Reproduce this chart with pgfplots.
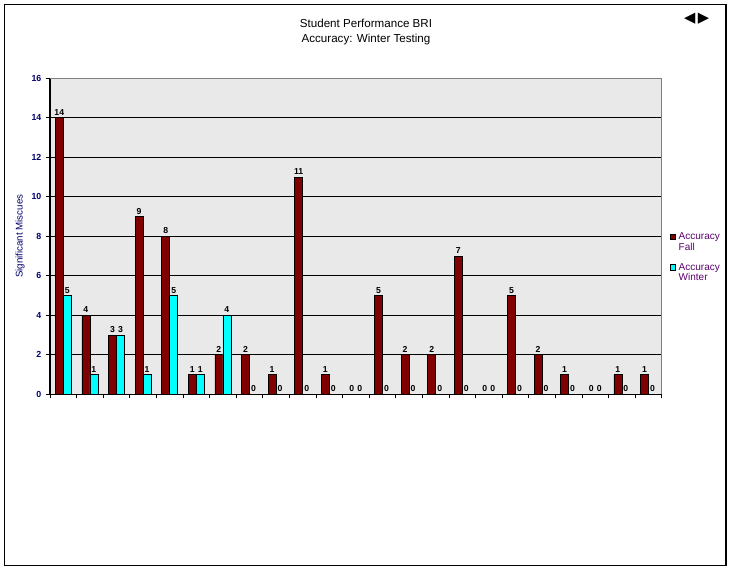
\documentclass[border=0pt]{standalone}
\usepackage{fontspec}
\setmainfont{Liberation Sans}
\newfontfamily\dejavu{DejaVu Sans}
\usepackage{pgfplots}
\pgfplotsset{compat=1.18}
\definecolor{fallred}{RGB}{128,0,0}
\definecolor{wintercyan}{RGB}{0,255,255}
\definecolor{navy}{RGB}{0,0,110}
\definecolor{legtext}{RGB}{90,0,110}
\begin{document}
\begin{tikzpicture}
\useasboundingbox (0,0) rectangle (549pt,428.25pt);
\draw[line width=1.2pt] (3.3pt,4pt) rectangle (544.5pt,425pt);
\node[align=center,font=\fontsize{8.7}{10.7}\selectfont] at (274.5pt,404.2pt) {Student Performance BRI\\Accuracy: Winter Testing};
\node[font=\dejavu\fontsize{11}{12}\selectfont,inner sep=0pt] at (522.4pt,414.5pt) {◀\,▶};
\begin{axis}[
  at={(37.5pt,132.5pt)}, anchor=south west,
  scale only axis, width=458.8pt, height=237pt,
  xmin=-0.5, xmax=22.5, ymin=0, ymax=16,
  ybar=0pt, bar width=6pt,
  axis x line*=bottom, axis y line*=left,
  axis line style={black, line width=0.8pt},
  axis background/.style={fill=gray!17},
  xtick={-0.5,0.5,...,22.5},
  x tick label style={opacity=0},
  ytick={0,2,...,16},
  tick align=outside, major tick length=3pt,
  tick style={black, line width=0.6pt},
  ymajorgrids, grid style={black, line width=0.6pt},
  y tick label style={font=\bfseries\fontsize{6.6}{7}\selectfont, text=navy},
  /pgf/number format/assume math mode=true,
  ylabel={Significant Miscues},
  ylabel style={at={(axis description cs:-0.049,0.5)}, anchor=center, font=\fontsize{7.3}{8}\selectfont, text=navy},
  nodes near coords,
  every node near coord/.append style={font=\bfseries\fontsize{6.5}{7}\selectfont, text=black, inner sep=1.5pt, /pgf/number format/assume math mode=true},
  clip=false,
  legend style={at={(rel axis cs:1.0136,0.52)}, anchor=north west, draw=none, fill=none,
    font=\fontsize{7.5}{8}\selectfont, text=legtext, cells={anchor=west, align=left},
    row sep=4pt, inner sep=0pt},
  legend image code/.code={\draw[#1, line width=0.5pt] (0pt,2.3pt) rectangle (3.8pt,6.1pt);},
]
\draw[gray, line width=0.8pt] (rel axis cs:0,1) -- (rel axis cs:1,1) -- (rel axis cs:1,0);
\addplot[fill=fallred, draw=black, line width=0.5pt] coordinates {
(0,14) (1,4) (2,3) (3,9) (4,8) (5,1) (6,2) (7,2) (8,1) (9,11) (10,1) (11,0)
(12,5) (13,2) (14,2) (15,7) (16,0) (17,5) (18,2) (19,1) (20,0) (21,1) (22,1)};
\addplot[fill=wintercyan, draw=black, line width=0.5pt] coordinates {
(0,5) (1,1) (2,3) (3,1) (4,5) (5,1) (6,4) (7,0) (8,0) (9,0) (10,0) (11,0)
(12,0) (13,0) (14,0) (15,0) (16,0) (17,0) (18,0) (19,0) (20,0) (21,0) (22,0)};
\legend{Accuracy\\Fall, Accuracy\\Winter}
\end{axis}
\end{tikzpicture}
\end{document}
